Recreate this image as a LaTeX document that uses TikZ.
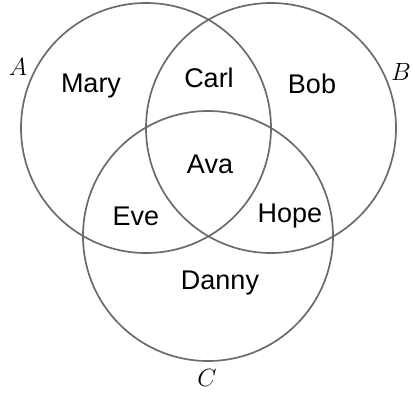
\documentclass[tikz,border=0pt]{standalone}
\usepackage{fontspec}
\setsansfont{Liberation Sans}
\begin{document}
\begin{tikzpicture}[x=1pt,y=-1pt,
  setcirc/.style={draw=black!58,line width=1.7pt},
  person/.style={font=\sffamily\fontsize{27}{31}\selectfont,inner sep=0pt},
  setlabel/.style={font=\fontsize{26}{30}\selectfont,inner sep=0pt}]
\useasboundingbox (0,0) rectangle (412,394);
\node[setcirc,circle,minimum size=250pt,inner sep=0pt] (cA) at (146,128) {};
\node[setcirc,circle,minimum size=250pt,inner sep=0pt] (cB) at (271,128) {};
\node[setcirc,circle,minimum size=250pt,inner sep=0pt] (cC) at (208,236) {};
\node[setlabel] (lA) at (18,67) {$A$};
\node[setlabel] (lB) at (401,72) {$B$};
\node[setlabel] (lC) at (207,378) {$C$};
\node[person] (mary) at (91,86) {Mary};
\node[person] (carl) at (209,78) {Carl};
\node[person] (bob) at (312,84) {Bob};
\node[person] (ava) at (210,164) {Ava};
\node[person] (eve) at (136,216) {Eve};
\node[person] (hope) at (290,216) {Hope};
\node[person] (danny) at (220,283) {Danny};
\end{tikzpicture}
\end{document}
